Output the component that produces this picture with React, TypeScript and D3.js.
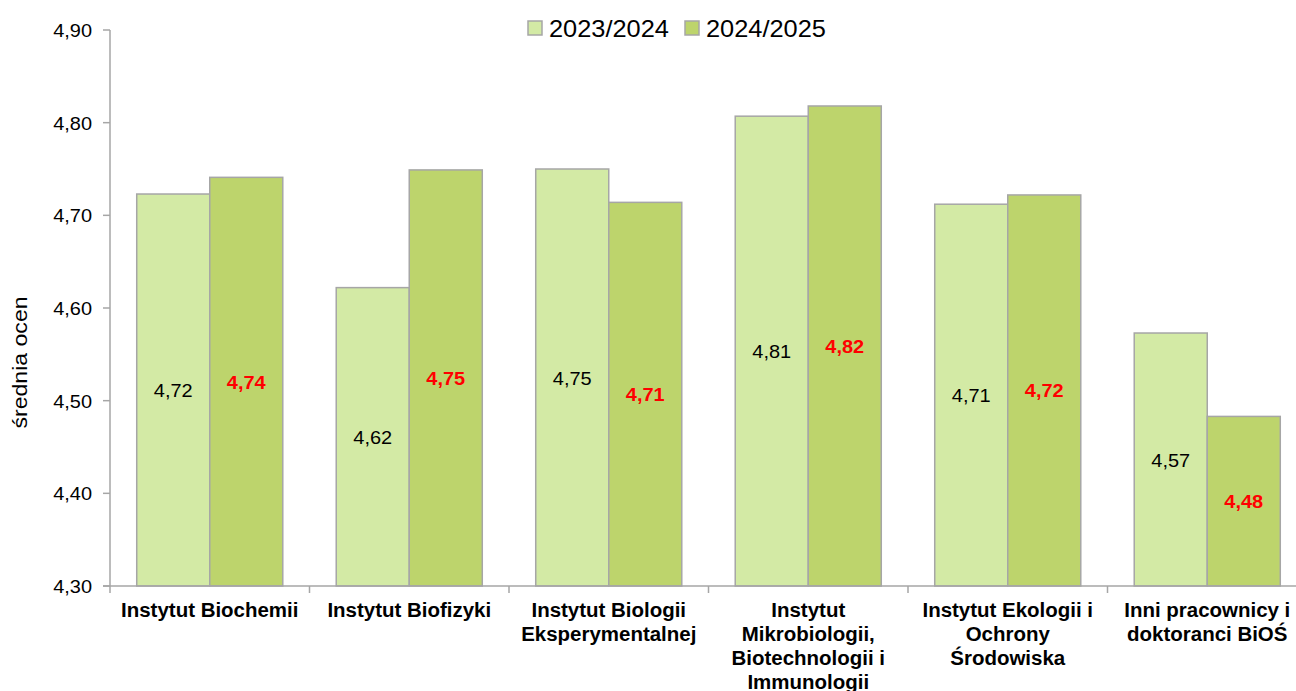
import React from "react";
import * as d3 from "d3";

const categories: string[][] = [
  ["Instytut Biochemii"],
  ["Instytut Biofizyki"],
  ["Instytut Biologii", "Eksperymentalnej"],
  ["Instytut", "Mikrobiologii,", "Biotechnologii i", "Immunologii"],
  ["Instytut Ekologii i", "Ochrony", "Środowiska"],
  ["Inni pracownicy i", "doktoranci BiOŚ"],
];
const seriesNames = ["2023/2024", "2024/2025"];
const values2324 = [4.723, 4.622, 4.75, 4.807, 4.712, 4.573];
const values2425 = [4.741, 4.749, 4.714, 4.818, 4.722, 4.483];
const yTicks = [4.3, 4.4, 4.5, 4.6, 4.7, 4.8, 4.9];

const W = 1296;
const H = 691;
const left = 110;
const right = 1307;
const top = 30;
const bottom = 586;
const colors = ["#d3eaa5", "#bdd46c"];
const stroke = "#a6a6a6";
const font = "Liberation Sans, Arial, sans-serif";

const fmt = (v: number) => v.toFixed(2).replace(".", ",");

export default function App() {
  const idx = categories.map((_, i) => String(i));
  const x0 = d3.scaleBand<string>().domain(idx).range([left, right]).paddingInner(0).paddingOuter(0);
  const x1 = d3.scaleBand<string>().domain(seriesNames).range([0, x0.bandwidth()]).paddingInner(0).paddingOuter(0.366);
  const y = d3.scaleLinear().domain([4.3, 4.9]).range([bottom, top]);
  const series = [values2324, values2425];

  const boundaries = idx.map((k) => x0(k)!).concat([right]);

  return (
    <svg width={W} height={H} style={{ position: "absolute", left: 0, top: 0, background: "#fff" }} fontFamily={font}>
      {/* bars */}
      {idx.map((k, i) =>
        seriesNames.map((s, j) => {
          const v = series[j][i];
          const bx = x0(k)! + x1(s)!;
          const by = y(v);
          const bh = bottom - by;
          const cx = bx + x1.bandwidth() / 2;
          const cy = by + bh / 2;
          return (
            <g key={k + s}>
              <rect x={bx} y={by} width={x1.bandwidth()} height={bh} fill={colors[j]} stroke={stroke} strokeWidth={1.5} />
              <text
                transform={`translate(${cx},${cy + 7}) scale(1.05,1)`}
                textAnchor="middle"
                fontSize={19}
                fontWeight={j === 1 ? "bold" : "normal"}
                fill={j === 1 ? "#ff0000" : "#000"}
              >
                {fmt(v)}
              </text>
            </g>
          );
        })
      )}

      {/* y axis */}
      <line x1={left} x2={left} y1={top} y2={bottom} stroke={stroke} strokeWidth={1.5} />
      {yTicks.map((t) => (
        <g key={t}>
          <line x1={left - 7} x2={left} y1={y(t)} y2={y(t)} stroke={stroke} strokeWidth={1.5} />
          <text transform={`translate(${92},${y(t) + 7}) scale(1.05,1)`} textAnchor="end" fontSize={19} fill="#000">
            {fmt(t)}
          </text>
        </g>
      ))}

      {/* x axis */}
      <line x1={left - 7} x2={right} y1={bottom} y2={bottom} stroke={stroke} strokeWidth={1.5} />
      {boundaries.map((b, i) => (
        <line key={i} x1={b} x2={b} y1={bottom} y2={bottom + 7} stroke={stroke} strokeWidth={1.5} />
      ))}
      {idx.map((k, i) => {
        const cx = x0(k)! + x0.bandwidth() / 2;
        return (
          <g key={k}>
            {categories[i].map((line, li) => (
              <text
                key={li}
                transform={`translate(${cx},${616.5 + li * 24}) scale(1.05,1)`}
                textAnchor="middle"
                fontSize={19.5}
                fontWeight="bold"
                fill="#000"
              >
                {line}
              </text>
            ))}
          </g>
        );
      })}

      {/* y axis title */}
      <text transform="translate(27,362.5) rotate(-90) scale(1.1,1)" textAnchor="middle" fontSize={21} fill="#000">
        średnia ocen
      </text>

      {/* legend */}
      {seriesNames.map((s, j) => {
        const lx = j === 0 ? 528 : 685;
        return (
          <g key={s}>
            <rect x={lx} y={21} width={14} height={14} fill={colors[j]} stroke={stroke} strokeWidth={1.5} />
            <text transform={`translate(${lx + 21},36.5) scale(1.08,1)`} fontSize={23.5} fill="#000">
              {s}
            </text>
          </g>
        );
      })}
    </svg>
  );
}
